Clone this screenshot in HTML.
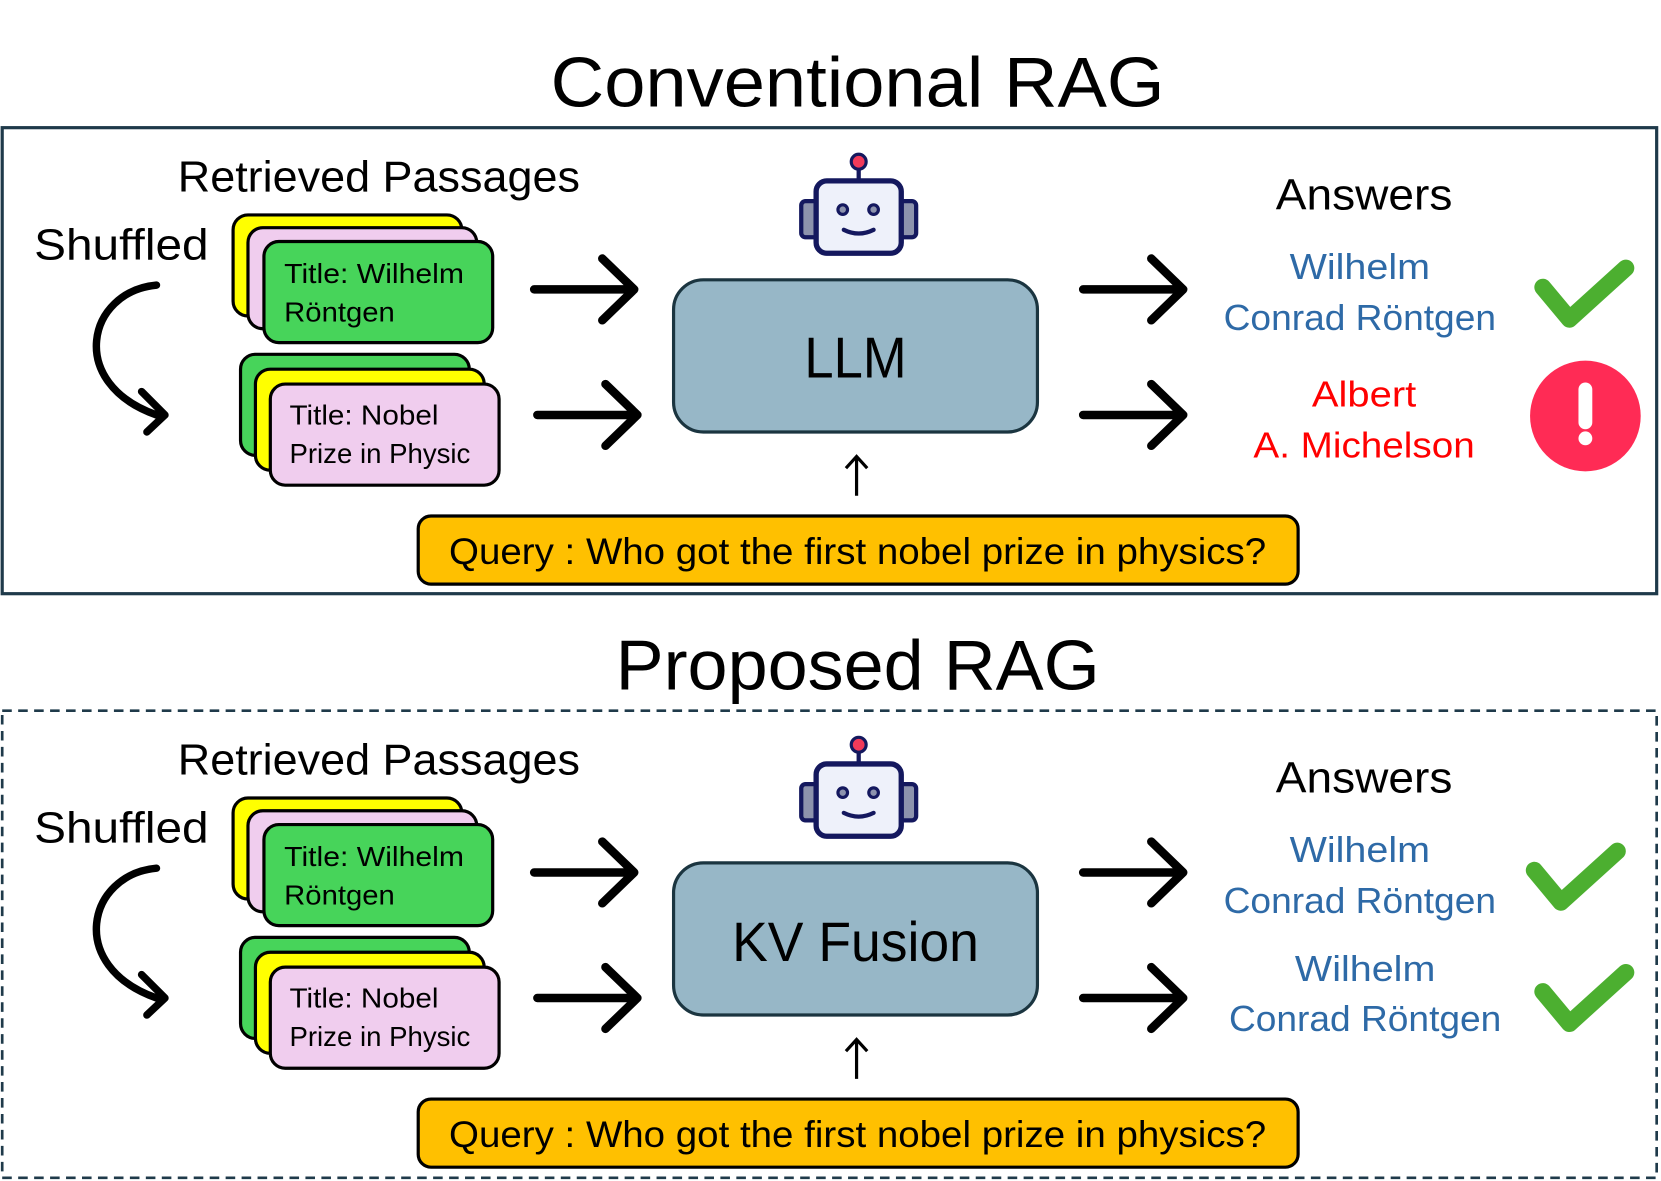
<!DOCTYPE html>
<html><head><meta charset="utf-8"><style>
html,body{margin:0;padding:0;background:#fff;}
svg{display:block;}
text{font-family:"Liberation Sans",sans-serif;}
</style></head><body>
<svg width="1661" height="1181" viewBox="0 0 1561 1110" xmlns="http://www.w3.org/2000/svg">
<defs>
<g id="robot">
  <line x1="807" y1="152" x2="807" y2="170" stroke="#14185e" stroke-width="4"/>
  <circle cx="807" cy="152" r="7" fill="#f23a5a" stroke="#14185e" stroke-width="3"/>
  <rect x="753" y="189" width="16" height="34" rx="4" fill="#8d93ad" stroke="#14185e" stroke-width="4"/>
  <rect x="845" y="189" width="16" height="34" rx="4" fill="#8d93ad" stroke="#14185e" stroke-width="4"/>
  <rect x="767" y="170" width="80" height="68" rx="10" fill="#eef1fa" stroke="#14185e" stroke-width="5"/>
  <circle cx="792" cy="197" r="4.5" fill="#8d93ad" stroke="#14185e" stroke-width="3"/>
  <circle cx="821" cy="197" r="4.5" fill="#8d93ad" stroke="#14185e" stroke-width="3"/>
  <path d="M793 216 Q807 223 821 216" fill="none" stroke="#14185e" stroke-width="4" stroke-linecap="round"/>
</g>
<g id="arr">
  <path d="M0 0 H94 M64 -29 L94 0 L64 29" fill="none" stroke="#000" stroke-width="8" stroke-linecap="round" stroke-linejoin="round"/>
</g>
<g id="panel">
  <text x="356" y="180" font-size="41" text-anchor="middle" textLength="378" lengthAdjust="spacingAndGlyphs">Retrieved Passages</text>
  <text x="32" y="244" font-size="41" textLength="164" lengthAdjust="spacingAndGlyphs">Shuffled</text>
  <path d="M147 268 C82 274 62 360 147 390" fill="none" stroke="#000" stroke-width="7" stroke-linecap="round"/>
  <path d="M133 368 L155 390 L138 406" fill="none" stroke="#000" stroke-width="7" stroke-linecap="round" stroke-linejoin="round"/>
  <rect x="219" y="202" width="215" height="95" rx="14" fill="#ffff00" stroke="#000" stroke-width="3"/>
  <rect x="233" y="214" width="215" height="95" rx="14" fill="#f0cdee" stroke="#000" stroke-width="3"/>
  <rect x="248" y="227" width="215" height="95" rx="14" fill="#47d45a" stroke="#000" stroke-width="3"/>
  <text x="267" y="266" font-size="26" textLength="169" lengthAdjust="spacingAndGlyphs">Title: Wilhelm</text>
  <text x="267" y="302" font-size="26" textLength="104" lengthAdjust="spacingAndGlyphs">Röntgen</text>
  <rect x="226" y="333" width="215" height="95" rx="14" fill="#47d45a" stroke="#000" stroke-width="3"/>
  <rect x="240" y="347" width="215" height="95" rx="14" fill="#ffff00" stroke="#000" stroke-width="3"/>
  <rect x="254" y="361" width="215" height="95" rx="14" fill="#f0cdee" stroke="#000" stroke-width="3"/>
  <text x="272" y="399" font-size="26" textLength="140" lengthAdjust="spacingAndGlyphs">Title: Nobel</text>
  <text x="272" y="435" font-size="26" textLength="170" lengthAdjust="spacingAndGlyphs">Prize in Physic</text>
  <use href="#arr" transform="translate(502,272)"/>
  <use href="#arr" transform="translate(505,390)"/>
  <use href="#arr" transform="translate(1018,272)"/>
  <use href="#arr" transform="translate(1018,390)"/>
  <rect x="633" y="263" width="342" height="143" rx="28" fill="#97b7c7" stroke="#1b3540" stroke-width="3"/>
  <use href="#robot"/>
  <path d="M805 466 V429 M795 440 L805 429 L815 440" fill="none" stroke="#000" stroke-width="3"/>
  <rect x="393" y="485" width="827" height="64" rx="12" fill="#ffc000" stroke="#000" stroke-width="3"/>
  <text x="806" y="530" font-size="35" text-anchor="middle" textLength="768" lengthAdjust="spacingAndGlyphs">Query : Who got the first nobel prize in physics?</text>
  <text x="1282" y="197" font-size="41" text-anchor="middle" textLength="166" lengthAdjust="spacingAndGlyphs">Answers</text>
</g>
</defs>

<text x="806" y="100" font-size="66" text-anchor="middle" textLength="577" lengthAdjust="spacingAndGlyphs">Conventional RAG</text>
<rect x="2" y="120" width="1555" height="438" fill="none" stroke="#1f3a4a" stroke-width="3"/>
<use href="#panel"/>
<text x="804" y="355" font-size="54" text-anchor="middle" textLength="96" lengthAdjust="spacingAndGlyphs">LLM</text>
<g font-size="34" text-anchor="middle">
<text x="1278" y="262" fill="#2e6aa7" textLength="132" lengthAdjust="spacingAndGlyphs">Wilhelm</text>
<text x="1278" y="310" fill="#2e6aa7" textLength="256" lengthAdjust="spacingAndGlyphs">Conrad Röntgen</text>
<text x="1282" y="382" fill="#ff0000" textLength="98" lengthAdjust="spacingAndGlyphs">Albert</text>
<text x="1282" y="430" fill="#ff0000" textLength="208" lengthAdjust="spacingAndGlyphs">A. Michelson</text>
</g>
<polyline points="1450,270 1475,300 1528,252" fill="none" stroke="#4caf30" stroke-width="16" stroke-linecap="round" stroke-linejoin="round"/>
<circle cx="1490" cy="391" r="52" fill="#ff2b55"/>
<path d="M1490 366 V397" stroke="#fff" stroke-width="13" stroke-linecap="round"/>
<circle cx="1490" cy="412" r="6.5" fill="#fff"/>

<text x="806" y="648" font-size="66" text-anchor="middle" textLength="455" lengthAdjust="spacingAndGlyphs">Proposed RAG</text>
<rect x="2" y="668" width="1555" height="439" fill="none" stroke="#1f3a4a" stroke-width="2.5" stroke-dasharray="9,6"/>
<g transform="translate(0,548)"><use href="#panel"/></g>
<text x="804" y="903" font-size="52" text-anchor="middle" textLength="232" lengthAdjust="spacingAndGlyphs">KV Fusion</text>
<g font-size="34" text-anchor="middle" fill="#2e6aa7">
<text x="1278" y="810" textLength="132" lengthAdjust="spacingAndGlyphs">Wilhelm</text>
<text x="1278" y="858" textLength="256" lengthAdjust="spacingAndGlyphs">Conrad Röntgen</text>
<text x="1283" y="922" textLength="132" lengthAdjust="spacingAndGlyphs">Wilhelm</text>
<text x="1283" y="969" textLength="256" lengthAdjust="spacingAndGlyphs">Conrad Röntgen</text>
</g>
<polyline points="1442,818 1467,848 1520,800" fill="none" stroke="#4caf30" stroke-width="16" stroke-linecap="round" stroke-linejoin="round"/>
<polyline points="1450,932 1475,962 1528,914" fill="none" stroke="#4caf30" stroke-width="16" stroke-linecap="round" stroke-linejoin="round"/>
</svg>
</body></html>
